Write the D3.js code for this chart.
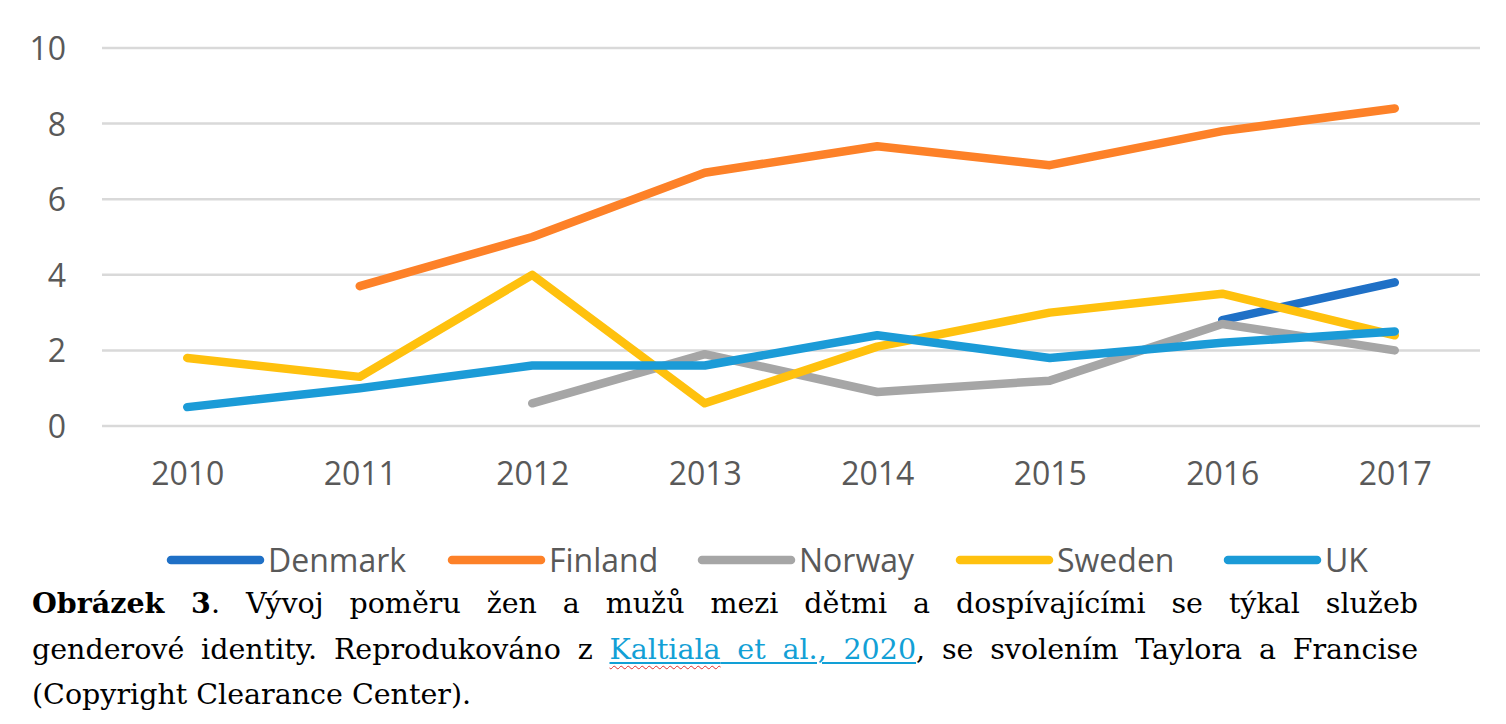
<!DOCTYPE html>
<html>
<head>
<meta charset="utf-8">
<script src="https://cdn.jsdelivr.net/npm/d3@7"></script>
<style>
  html, body { margin: 0; padding: 0; background: #fff; }
  body { width: 1506px; height: 724px; position: relative; overflow: hidden; }
  svg { position: absolute; left: 0; top: 0; }
  .cap { position: absolute; left: 32px; width: 1386px; font-family: "DejaVu Serif", "Liberation Serif", serif;
         font-size: 28.5px; color: #000; white-space: nowrap; line-height: 45px; }
  .just { text-align: justify; text-align-last: justify; white-space: normal; }
  .link { color: #12a0d6; text-decoration: underline; text-decoration-color: #12a0d6; text-underline-offset: 3px; text-decoration-thickness: 2px; }
  .spell { text-decoration: underline wavy #e03030; text-underline-offset: 6px; text-decoration-thickness: 1px; }
</style>
</head>
<body>
<svg id="chart" width="1506" height="724"></svg>
<div class="cap just" style="top:581px;"><b>Obrázek 3</b>. Vývoj poměru žen a mužů mezi dětmi a dospívajícími se týkal služeb</div>
<div class="cap just" style="top:627px;">genderové identity. Reprodukováno z <span class="link"><span class="spell">Kaltiala</span> et al., 2020</span>, se svolením Taylora a Francise</div>
<div class="cap" style="top:672px;">(Copyright Clearance Center).</div>
<script>
const years = ["2010", "2011", "2012", "2013", "2014", "2015", "2016", "2017"];
const seriesNames = ["Denmark", "Finland", "Norway", "Sweden", "UK"];
const denmark = [null, null, null, null, null, null, 2.8, 3.8];
const finland = [null, 3.7, 5.0, 6.7, 7.4, 6.9, 7.8, 8.4];
const norway  = [null, null, 0.6, 1.9, 0.9, 1.2, 2.7, 2.0];
const sweden  = [1.8, 1.3, 4.0, 0.6, 2.1, 3.0, 3.5, 2.4];
const uk      = [0.5, 1.0, 1.6, 1.6, 2.4, 1.8, 2.2, 2.5];
const yTicks  = [0, 2, 4, 6, 8, 10];
const colors  = ["#1f70c6", "#fd8128", "#a6a6a6", "#ffc10e", "#1b9bd7"];

const seriesValues = [denmark, finland, norway, sweden, uk];
const svg = d3.select("#chart");
const font = "'Open Sans', 'Noto Sans', sans-serif";

const x = d3.scalePoint().domain(years).range([101, 1481]).padding(0.5);
const y = d3.scaleLinear().domain([0, 10]).range([426, 48]);

// gridlines
svg.append("g").selectAll("line").data(yTicks).join("line")
  .attr("x1", 102).attr("x2", 1480)
  .attr("y1", d => y(d)).attr("y2", d => y(d))
  .attr("stroke", "#d9d9d9").attr("stroke-width", 2.5);

// y axis labels
const yAxis = svg.append("g").attr("transform", "translate(66,0)")
  .call(d3.axisLeft(y).tickValues(yTicks).tickSize(0).tickPadding(0).tickFormat(d3.format("d")));
yAxis.select(".domain").remove();
yAxis.selectAll("text").attr("font-family", font).attr("font-size", 32).attr("fill", "#595959")
  .attr("dy", "0.36em");

// x axis labels
const xAxis = svg.append("g").attr("transform", "translate(0,461)")
  .call(d3.axisBottom(x).tickSize(0).tickPadding(0));
xAxis.select(".domain").remove();
xAxis.selectAll("text").attr("font-family", font).attr("font-size", 32).attr("fill", "#595959")
  .attr("dy", "0.74em");

// lines
const line = d3.line()
  .defined(d => d.v !== null)
  .x(d => x(d.year)).y(d => y(d.v));

seriesNames.forEach((name, i) => {
  const data = years.map((yr, j) => ({ year: yr, v: seriesValues[i][j] }));
  svg.append("path").datum(data)
    .attr("d", line)
    .attr("fill", "none")
    .attr("stroke", colors[i])
    .attr("stroke-width", 8.5)
    .attr("stroke-linecap", "round")
    .attr("stroke-linejoin", "round");
});

// legend
const legendX = [171, 452, 702, 960, 1228];
const lg = svg.append("g");
seriesNames.forEach((name, i) => {
  lg.append("line")
    .attr("x1", legendX[i]).attr("x2", legendX[i] + 89)
    .attr("y1", 560).attr("y2", 560)
    .attr("stroke", colors[i]).attr("stroke-width", 8.5).attr("stroke-linecap", "round");
  lg.append("text")
    .attr("x", legendX[i] + 97).attr("y", 560).attr("dy", "0.36em")
    .attr("font-family", font).attr("font-size", 32).attr("fill", "#595959")
    .text(name);
});
</script>
</body>
</html>
